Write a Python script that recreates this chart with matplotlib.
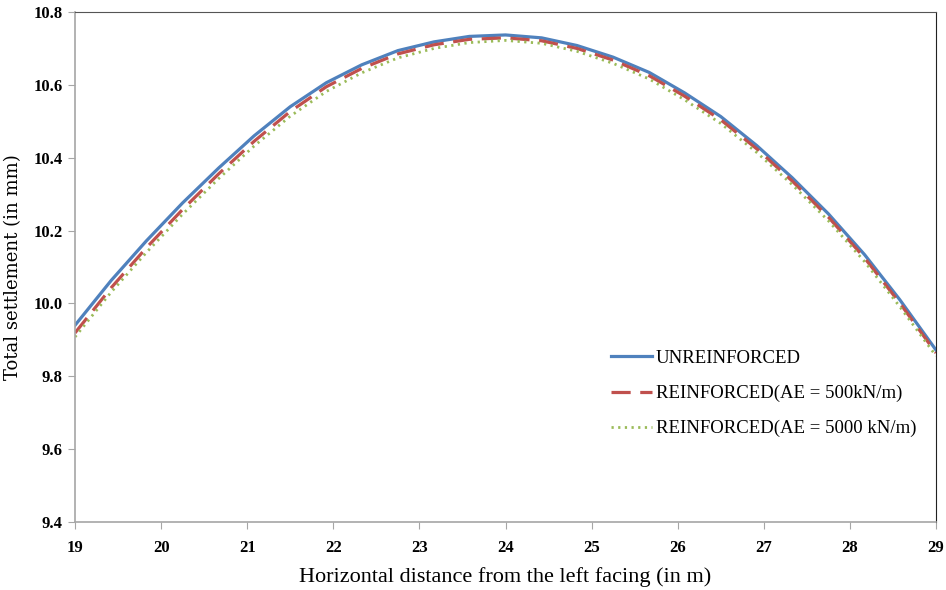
import matplotlib
matplotlib.use("Agg")
import matplotlib.pyplot as plt

# horizontal distance (m)
x = [19.0, 19.42, 19.83, 20.25, 20.67, 21.08, 21.5, 21.92, 22.33, 22.75, 23.17, 23.58,
     24.0, 24.42, 24.83, 25.25, 25.67, 26.08, 26.5, 26.92, 27.33, 27.75, 28.17, 28.58, 29.0]

unreinforced = [9.940, 10.063, 10.172, 10.276, 10.372, 10.460, 10.540, 10.606, 10.655,
                10.694, 10.718, 10.733, 10.737, 10.729, 10.708, 10.676, 10.634, 10.578,
                10.513, 10.433, 10.345, 10.246, 10.134, 10.010, 9.872]
reinf_500 = [9.919, 10.043, 10.153, 10.258, 10.356, 10.445, 10.527, 10.595, 10.645,
             10.685, 10.710, 10.725, 10.729, 10.721, 10.700, 10.668, 10.625, 10.569,
             10.504, 10.424, 10.336, 10.237, 10.125, 10.001, 9.864]
reinf_5000 = [9.908, 10.031, 10.140, 10.245, 10.343, 10.432, 10.514, 10.582, 10.633,
              10.674, 10.700, 10.716, 10.722, 10.714, 10.692, 10.659, 10.616, 10.559,
              10.494, 10.414, 10.326, 10.227, 10.115, 9.991, 9.856]

xticks = list(range(19, 30))
yticks = [9.4, 9.6, 9.8, 10.0, 10.2, 10.4, 10.6, 10.8]

plt.rcParams['font.family'] = ['Liberation Serif', 'DejaVu Serif']

fig = plt.figure(figsize=(9.46, 5.9), dpi=100)
ax = fig.add_axes([75 / 946, 68 / 590, 861 / 946, 510 / 590])

ax.plot(x, unreinforced, color='#4F81BD', lw=2.3, label='UNREINFORCED')
ax.plot(x, reinf_500, color='#C0504D', lw=2.3, dashes=(6, 3),
        label='REINFORCED(AE = 500kN/m)')
ax.plot(x, reinf_5000, color='#9BBB59', lw=2.0, dashes=(0.8, 1.6),
        label='REINFORCED(AE = 5000 kN/m)')

ax.set_xlim(19, 29)
ax.set_ylim(9.4, 10.8)
ax.set_xticks(xticks)
ax.set_yticks(yticks)
ax.set_xticklabels([str(t) for t in xticks], fontsize=12, fontweight='bold')
ax.set_yticklabels(['%.1f' % t for t in yticks], fontsize=12, fontweight='bold')

for s in ['left', 'bottom']:
    ax.spines[s].set_color('#a6a6a6')
    ax.spines[s].set_linewidth(1.2)
ax.spines['top'].set_color('#555555')
ax.spines['right'].set_color('#222222')
ax.tick_params(direction='out', length=5, color='#a6a6a6')
ax.tick_params(axis='x', pad=8)
ax.tick_params(axis='y', pad=4)

ax.set_xlabel('Horizontal distance from the left facing (in m)', fontsize=16, labelpad=8)
ax.set_ylabel('Total settlement (in mm)', fontsize=13, family='DejaVu Serif', labelpad=8)

ax.legend(loc='upper left', bbox_to_anchor=(594 / 946, 1 - 333 / 590),
          bbox_transform=fig.transFigure, frameon=False, fontsize=13.5,
          handlelength=2.2, labelspacing=0.95, handletextpad=0.2)

fig.savefig('out.png', dpi=100)
